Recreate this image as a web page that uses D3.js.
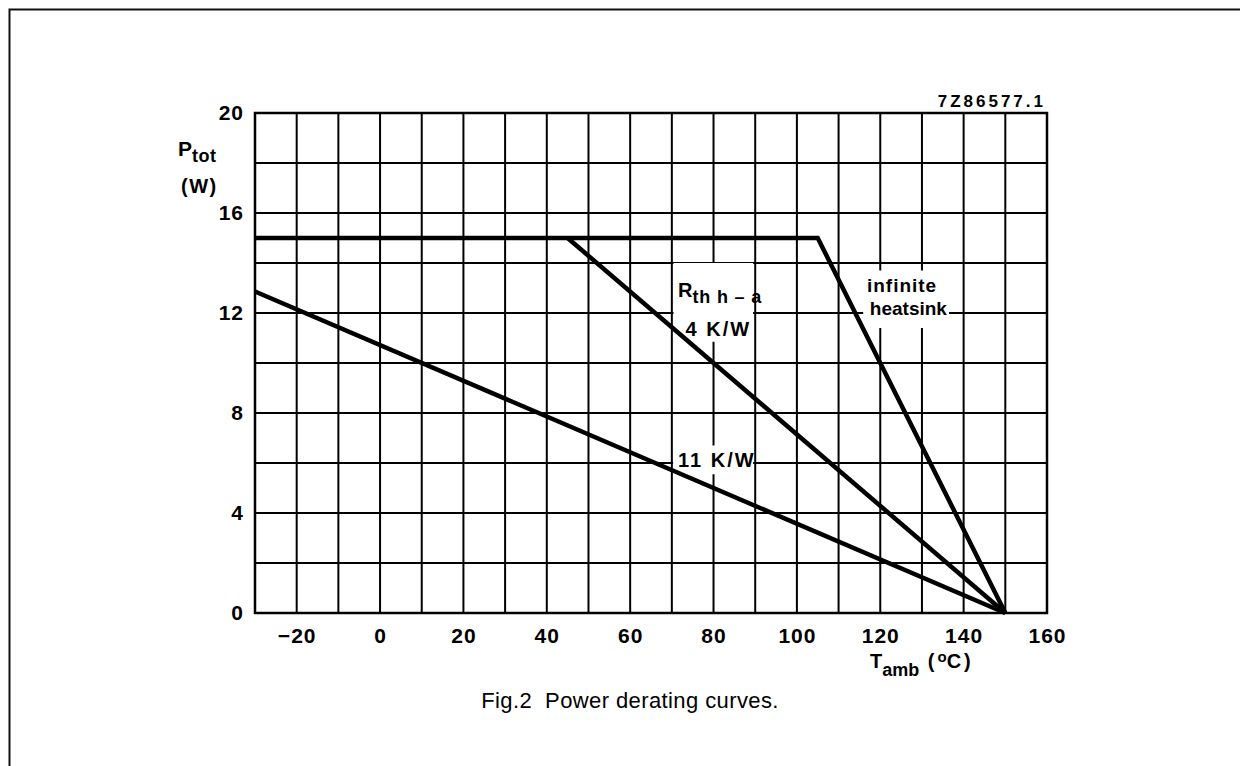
<!DOCTYPE html>
<html>
<head>
<meta charset="utf-8">
<script src="https://cdn.jsdelivr.net/npm/d3@7"></script>
<style>
  body { margin: 0; background: #fff; overflow: hidden; }
  svg { display: block; }
  .lbl { font-family: "Liberation Sans", Arial, sans-serif; font-weight: bold; fill: #000; }
  .caption { font-family: "Liberation Sans", Arial, sans-serif; font-size: 22px; fill: #000; }
</style>
</head>
<body>
<div id="chart"></div>
<script>
// tick labels
const xTicks = [-20, 0, 20, 40, 60, 80, 100, 120, 140, 160];
const yTicks = [0, 4, 8, 12, 16, 20];
// grid lines
const xGrid = d3.range(-20, 160, 10);
const yGrid = d3.range(2, 20, 2);

// derating curves (Tamb in degC, Ptot in W)
const infiniteT = [-30, 105, 150];
const infiniteP = [15, 15, 0];
const rth4T = [45, 150];
const rth4P = [15, 0];
const rth11T = [-30, 150];
const rth11P = [12.86, 0];

const width = 1240, height = 766;
const margin = { left: 255, top: 113, right: 193, bottom: 153 };
const innerwidth = width - margin.left - margin.right;
const innerheight = height - margin.top - margin.bottom;

const xScale = d3.scaleLinear().domain([-30, 160]).range([0, innerwidth]);
const yScale = d3.scaleLinear().domain([0, 20]).range([innerheight, 0]);

const svg = d3.select("#chart")
    .append("svg")
    .attr("width", width)
    .attr("height", height);

// page frame: only the left and top edges are inside the picture
svg.append("path")
    .attr("d", `M9.5,${height} V9.5 H${width}`)
    .attr("fill", "none")
    .attr("stroke", "#111")
    .attr("stroke-width", 2);

const innerChart = svg.append("g")
    .attr("transform", `translate(${margin.left},${margin.top})`);

// grid
innerChart.selectAll(".vgrid")
    .data(xGrid)
    .join("line")
    .attr("x1", d => xScale(d)).attr("x2", d => xScale(d))
    .attr("y1", 0).attr("y2", innerheight)
    .attr("stroke", "#000").attr("stroke-width", 2);

innerChart.selectAll(".hgrid")
    .data(yGrid)
    .join("line")
    .attr("x1", 0).attr("x2", innerwidth)
    .attr("y1", d => yScale(d)).attr("y2", d => yScale(d))
    .attr("stroke", "#000").attr("stroke-width", 2);

innerChart.append("rect")
    .attr("width", innerwidth).attr("height", innerheight)
    .attr("fill", "none")
    .attr("stroke", "#000").attr("stroke-width", 2.5);

// annotation boxes knock out the grid
const annot = innerChart.append("g");
const boxes = [
    { x: 70.4, y: 14.0, w: 19.1, h: 3.15 },   // Rth h-a / 4 K/W
    { x: 115.9, y: 13.7, w: 20.6, h: 2.3 },  // infinite heatsink
    { x: 70.3, y: 6.7, w: 19.2, h: 1.15 }    // 11 K/W
];
annot.selectAll("rect")
    .data(boxes)
    .join("rect")
    .attr("x", d => xScale(d.x))
    .attr("y", d => yScale(d.y))
    .attr("width", d => xScale(d.x + d.w) - xScale(d.x))
    .attr("height", d => yScale(d.y - d.h) - yScale(d.y))
    .attr("fill", "#fff");

// curves
const line = d3.line().x(d => xScale(d[0])).y(d => yScale(d[1]));
const curves = [
    d3.zip(infiniteT, infiniteP),
    d3.zip(rth4T, rth4P),
    d3.zip(rth11T, rth11P)
];
innerChart.selectAll(".curve")
    .data(curves)
    .join("path")
    .attr("d", line)
    .attr("fill", "none")
    .attr("stroke", "#000")
    .attr("stroke-width", 4.5)
    .attr("stroke-linejoin", "miter");

// axes (labels only)
const styleTicks = sel => sel.selectAll("text")
    .attr("class", "lbl")
    .attr("font-size", 21)
    .attr("letter-spacing", 1)
    .style("font-family", "Liberation Sans, Arial, sans-serif")
    .style("font-weight", "bold");

const bottomAxis = d3.axisBottom(xScale).tickValues(xTicks).tickSize(0).tickPadding(15);
innerChart.append("g")
    .attr("transform", `translate(0,${innerheight})`)
    .call(bottomAxis)
    .call(g => g.select(".domain").remove())
    .call(styleTicks);

const leftAxis = d3.axisLeft(yScale).tickValues(yTicks).tickSize(0).tickPadding(11);
innerChart.append("g")
    .call(leftAxis)
    .call(g => g.select(".domain").remove())
    .call(styleTicks);

// axis titles
const ptot = svg.append("text").attr("class", "lbl").attr("font-size", 21)
    .attr("x", 178).attr("y", 156);
ptot.append("tspan").text("P");
ptot.append("tspan").attr("dy", 6).attr("font-size", 18).attr("letter-spacing", 0.5).text("tot");
svg.append("text").attr("class", "lbl").attr("font-size", 20)
    .attr("x", 181).attr("y", 193).attr("letter-spacing", 1.5).text("(W)");

const tamb = svg.append("text").attr("class", "lbl").attr("font-size", 20)
    .attr("x", 870).attr("y", 668);
tamb.append("tspan").text("T");
tamb.append("tspan").attr("dy", 8).attr("font-size", 18).text("amb");
tamb.append("tspan").attr("dy", -8).attr("letter-spacing", 3).text(" (");
tamb.append("tspan").attr("dy", -6).attr("font-size", 15).text("o");
tamb.append("tspan").attr("dy", 6).attr("letter-spacing", 3).text("C)");

svg.append("text").attr("class", "lbl").attr("font-size", 17)
    .attr("x", 1046).attr("y", 107)
    .attr("text-anchor", "end")
    .attr("letter-spacing", 3)
    .text("7Z86577.1");

// curve annotations
const rth = innerChart.append("text").attr("class", "lbl").attr("font-size", 20)
    .attr("x", xScale(71.5)).attr("y", yScale(12.75) + 3);
rth.append("tspan").text("R");
rth.append("tspan").attr("dy", 6).attr("font-size", 18).attr("letter-spacing", 0.8).text("th h – a");
innerChart.append("text").attr("class", "lbl").attr("font-size", 20)
    .attr("x", xScale(73.3)).attr("y", yScale(12) + 23)
    .attr("letter-spacing", 2)
    .text("4 K/W");

innerChart.append("text").attr("class", "lbl").attr("font-size", 19)
    .attr("x", xScale(116.8)).attr("y", yScale(12.85))
    .attr("letter-spacing", 1)
    .text("infinite");
innerChart.append("text").attr("class", "lbl").attr("font-size", 19)
    .attr("x", xScale(117.5)).attr("y", yScale(12) + 2)
    .text("heatsink");

innerChart.append("text").attr("class", "lbl").attr("font-size", 20)
    .attr("x", xScale(71.5)).attr("y", yScale(6) + 4)
    .attr("letter-spacing", 2)
    .text("11 K/W");

// caption
svg.append("text").attr("class", "caption")
    .attr("x", 630).attr("y", 708)
    .attr("text-anchor", "middle")
    .attr("letter-spacing", 0.4)
    .style("white-space", "pre")
    .text("Fig.2  Power derating curves.");
</script>
</body>
</html>
